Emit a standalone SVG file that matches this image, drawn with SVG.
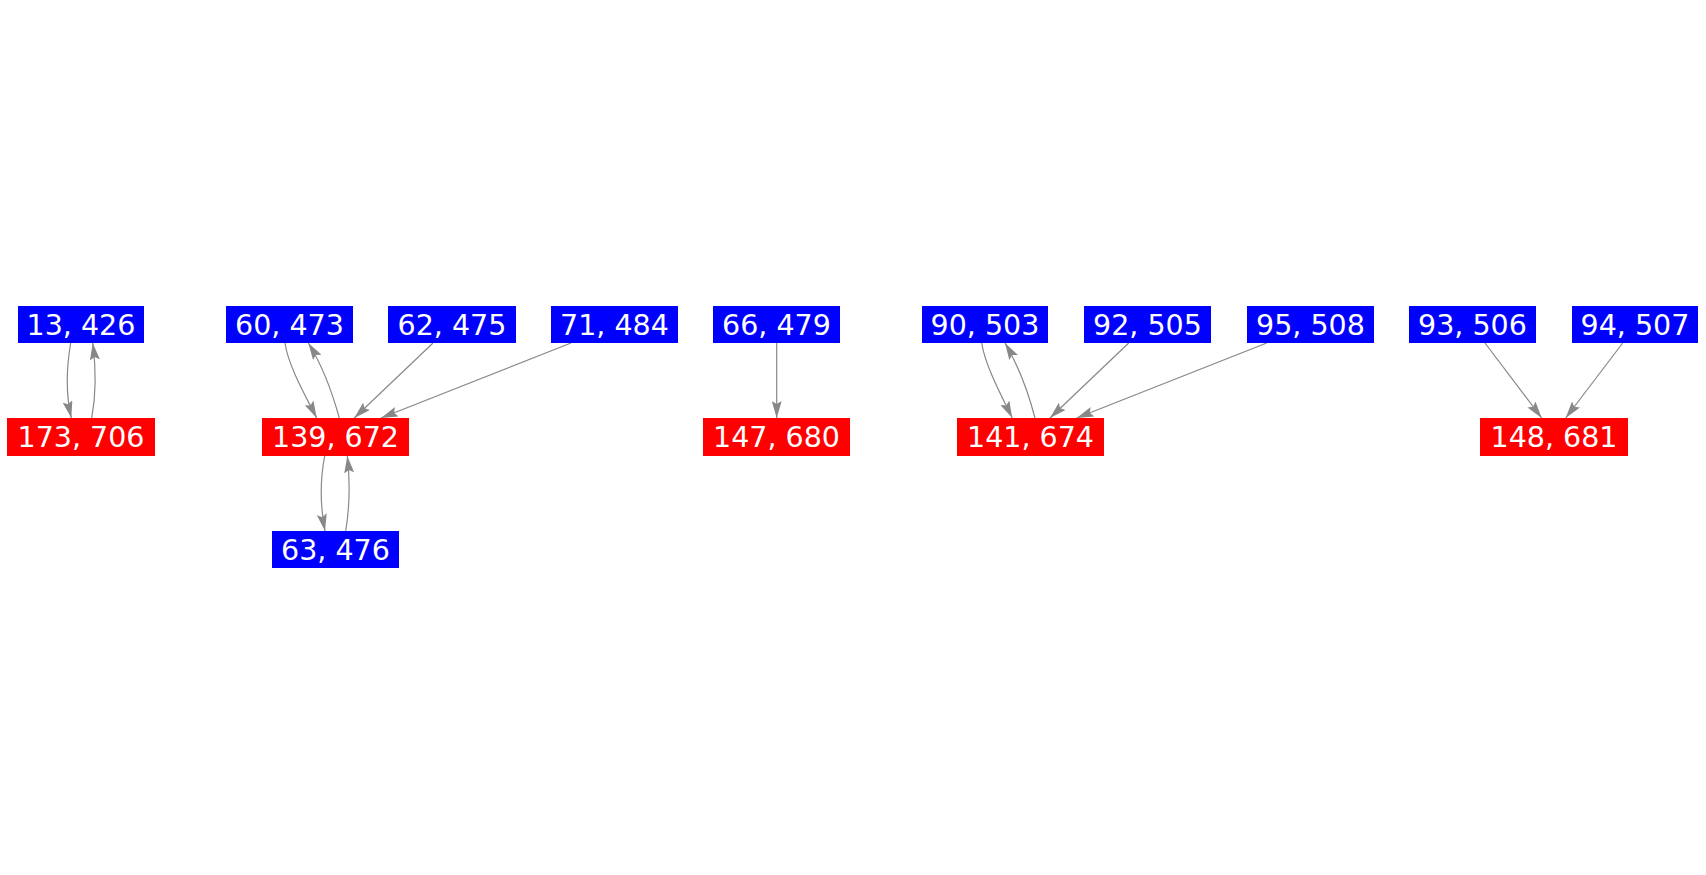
<svg xmlns="http://www.w3.org/2000/svg" width="1706" height="875" viewBox="0 0 1706 875">
<style>
.b{fill:#0000ff}
.r{fill:#ff0000}
text{font-family:"DejaVu Sans",sans-serif;font-size:28.5px;fill:#ffffff;text-anchor:middle}
.e path{fill:none;stroke:#888888;stroke-width:1.2;marker-end:url(#ah)}
</style>
<defs>
<marker id="ah" markerUnits="userSpaceOnUse" viewBox="0 0 17 10" markerWidth="17" markerHeight="10" refX="17" refY="5" orient="auto">
<path d="M0,0 L17,5 L0,10 L3,5 Z" fill="#888888"/>
</marker>
</defs>
<rect width="1706" height="875" fill="#ffffff"/>
<g id="edges" class="e">
<path d="M70.7,343 C66,370 66,395 71.3,418"/>
<path d="M91.7,418 C96,395 96,368 92.7,343"/>
<path d="M285,343 C288,365 305,395 316.7,418"/>
<path d="M339.3,418 C333,395 322,365 308.3,343"/>
<path d="M433,343 L354.3,418"/>
<path d="M571,343 L381,418"/>
<path d="M324.7,456 C320,480 320,505 325,531"/>
<path d="M345.7,531 C350,505 350,480 347.3,456"/>
<path d="M776.7,343 L776.7,418"/>
<path d="M981.7,343 C985,365 1001,395 1012.3,418"/>
<path d="M1035,418 C1029,395 1018,365 1005,343"/>
<path d="M1128.7,343 L1050,418"/>
<path d="M1266.7,343 L1076.7,418"/>
<path d="M1485,343 L1541.7,418"/>
<path d="M1622.7,343 L1565.7,418"/>
</g>
<g id="n13"><rect class="b" x="18" y="306" width="126" height="37"/><text x="81" y="334.5">13, 426</text></g>
<g id="n173"><rect class="r" x="7" y="418" width="148" height="38"/><text x="81" y="447">173, 706</text></g>
<g id="n60"><rect class="b" x="226" y="306" width="127" height="37"/><text x="289.5" y="334.5">60, 473</text></g>
<g id="n62"><rect class="b" x="388" y="306" width="128" height="37"/><text x="452" y="334.5">62, 475</text></g>
<g id="n71"><rect class="b" x="551" y="306" width="127" height="37"/><text x="614.5" y="334.5">71, 484</text></g>
<g id="n139"><rect class="r" x="262" y="418" width="147" height="38"/><text x="335.5" y="447">139, 672</text></g>
<g id="n63"><rect class="b" x="272" y="531" width="127" height="37"/><text x="335.5" y="559.5">63, 476</text></g>
<g id="n66"><rect class="b" x="713" y="306" width="127" height="37"/><text x="776.5" y="334.5">66, 479</text></g>
<g id="n147"><rect class="r" x="703" y="418" width="147" height="38"/><text x="776.5" y="447">147, 680</text></g>
<g id="n90"><rect class="b" x="922" y="306" width="126" height="37"/><text x="985" y="334.5">90, 503</text></g>
<g id="n92"><rect class="b" x="1084" y="306" width="127" height="37"/><text x="1147.5" y="334.5">92, 505</text></g>
<g id="n95"><rect class="b" x="1247" y="306" width="127" height="37"/><text x="1310.5" y="334.5">95, 508</text></g>
<g id="n141"><rect class="r" x="957" y="418" width="147" height="38"/><text x="1030.5" y="447">141, 674</text></g>
<g id="n93"><rect class="b" x="1409" y="306" width="127" height="37"/><text x="1472.5" y="334.5">93, 506</text></g>
<g id="n94"><rect class="b" x="1572" y="306" width="126" height="37"/><text x="1635" y="334.5">94, 507</text></g>
<g id="n148"><rect class="r" x="1480" y="418" width="148" height="38"/><text x="1554" y="447">148, 681</text></g>
</svg>
